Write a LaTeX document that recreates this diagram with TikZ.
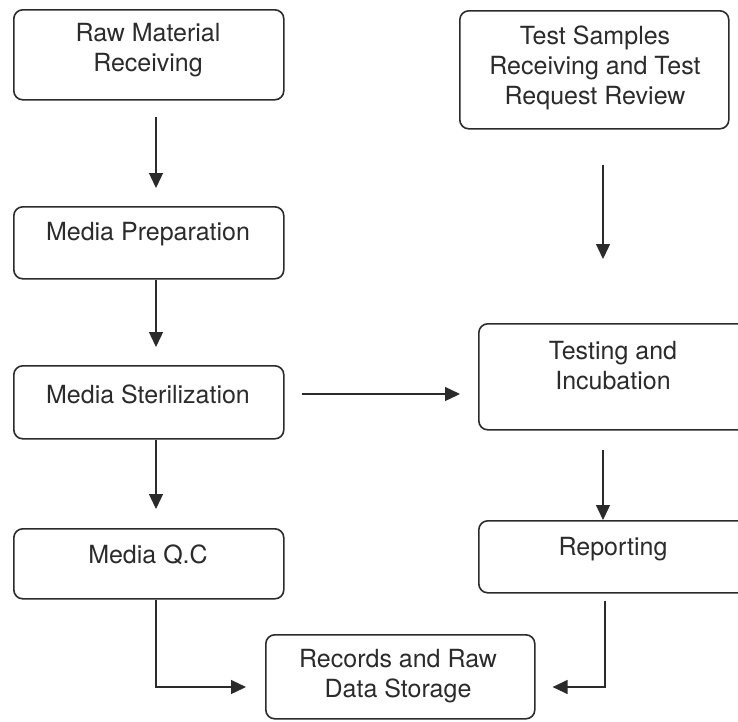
\documentclass[tikz,border=0pt]{standalone}
\usepackage{fontspec}
\setmainfont{TeX Gyre Heros}
\usetikzlibrary{arrows.meta}
\definecolor{ink}{HTML}{2B2B2B}
\begin{document}
\begin{tikzpicture}[x=1pt,y=-1pt,
  box/.style={draw=ink, line width=1.6pt, rounded corners=9pt, anchor=north west, inner sep=0pt},
  lbl/.style={font=\fontsize{25}{30}\selectfont, align=center, inner sep=0pt, text=ink},
  arr/.style={draw=ink, line width=1.3pt, -{Triangle[length=15pt,width=14pt]}}]
\useasboundingbox (0,0) rectangle (738,721);
\clip (0,0) rectangle (738,721);
\fill[white] (0,0) rectangle (738,721);
% boxes
\node[box, minimum width=270pt, minimum height=90pt] (raw) at (13,9) {};
\node[box, minimum width=270pt, minimum height=72pt] (prep) at (13,206) {};
\node[box, minimum width=270pt, minimum height=73pt] (steril) at (13,365) {};
\node[box, minimum width=270pt, minimum height=70pt] (qc) at (13,528) {};
\node[box, minimum width=269pt, minimum height=118pt] (test) at (459,10) {};
\node[box, minimum width=270pt, minimum height=106pt] (testing) at (478,323) {};
\node[box, minimum width=270pt, minimum height=72pt] (repo) at (478,520) {};
\node[box, minimum width=269pt, minimum height=84pt] (records) at (265,634) {};
% texts
\node[lbl] (rawt) at (148,50) {Raw Material\\Receiving};
\node[lbl] (prept) at (148,234.5) {Media Preparation};
\node[lbl] (sterilt) at (148,394.5) {Media Sterilization};
\node[lbl] (qct) at (148,555) {Media Q.C};
\node[lbl] (testt) at (595,67.5) {Test Samples\\Receiving and Test\\Request Review};
\node[lbl] (testingt) at (613,365.5) {Testing and\\Incubation};
\node[lbl] (repot) at (613,549.5) {Reporting};
\node[lbl] (recordst) at (398,676) {Records and Raw\\Data Storage};
% helper coordinates
\coordinate (xl) at (156,0);
\coordinate (xr) at (603,0);
\coordinate (xr2) at (605,0);
\coordinate (yh) at (0,394);
\coordinate (ya) at (0,687);
% connectors
\draw[arr, shorten <=16pt, shorten >=18pt] (raw.south -| xl) -- (prep.north -| xl);
\draw[arr, shorten >=18pt] (prep.south -| xl) -- (steril.north -| xl);
\draw[arr, shorten >=19pt] (steril.south -| xl) -- (qc.north -| xl);
\draw[arr, shorten <=17pt, shorten >=18pt] (steril.east |- yh) -- (testing.west |- yh);
\draw[arr, shorten <=35pt, shorten >=64pt] (test.south -| xr) -- (testing.north -| xr);
\draw[arr, shorten <=19pt] (testing.south -| xr) -- (repo.north -| xr);
\draw[arr, shorten >=19pt] (qc.south -| xl) |- (records.west |- ya);
\draw[arr, shorten <=7pt, shorten >=17pt] (repo.south -| xr2) |- (records.east |- ya);
\end{tikzpicture}
\end{document}
